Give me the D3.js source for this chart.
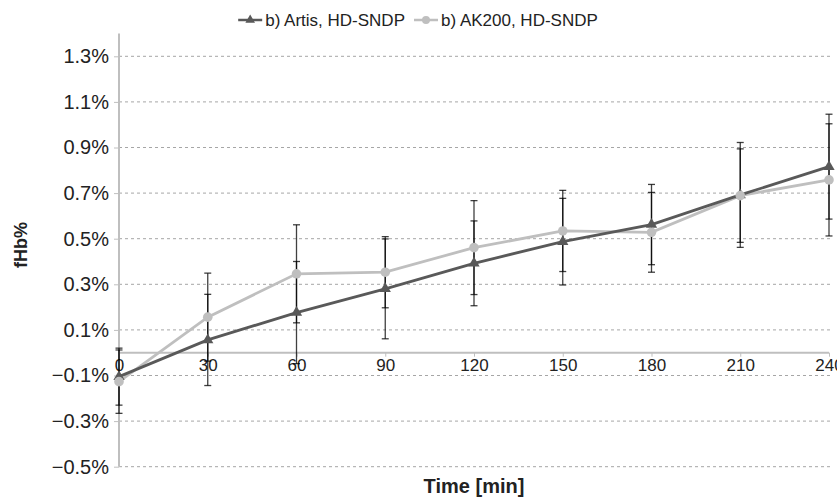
<!DOCTYPE html>
<html><head><meta charset="utf-8">
<script src="https://cdn.jsdelivr.net/npm/d3@7"></script>
<style>body{margin:0;background:#fff}svg{display:block;font-family:"Liberation Sans",Arial,sans-serif}</style>
</head><body><svg id="c" width="837" height="499"></svg>
<script>
const times = [0, 30, 60, 90, 120, 150, 180, 210, 240];
const seriesNames = ["b) Artis, HD-SNDP", "b) AK200, HD-SNDP"];
const artis = [-0.105, 0.056, 0.176, 0.28, 0.392, 0.487, 0.562, 0.692, 0.816];
const artisErr = [0.125, 0.2, 0.224, 0.219, 0.186, 0.19, 0.176, 0.23, 0.23];
const ak200 = [-0.127, 0.156, 0.346, 0.353, 0.461, 0.534, 0.528, 0.689, 0.758];
const ak200Err = [0.139, 0.193, 0.215, 0.156, 0.206, 0.178, 0.175, 0.205, 0.246];
const yTicks = [-0.5, -0.3, -0.1, 0.1, 0.3, 0.5, 0.7, 0.9, 1.1, 1.3];
const yTickLabels = ["\u22120.5%", "\u22120.3%", "\u22120.1%", "0.1%", "0.3%", "0.5%", "0.7%", "0.9%", "1.1%", "1.3%"];
const xLabel = "Time [min]";
const yLabel = "fHb%";

const svg = d3.select("#c");
const x = d3.scaleLinear().domain([0, 240]).range([119, 829]);
const y = d3.scaleLinear().domain([-0.5, 1.3]).range([466.7, 56.3]);
const yTop = y(1.4);
const txt = "#222";

// gridlines
svg.append("g").selectAll("line").data(yTicks).join("line")
  .attr("x1", 119).attr("x2", 832)
  .attr("y1", d => y(d)).attr("y2", d => y(d))
  .attr("stroke", "#a6a6a6").attr("stroke-width", 1).attr("stroke-dasharray", "3,3");

// y axis
const yAxis = d3.axisLeft(y).tickValues(yTicks).tickSize(5).tickPadding(5)
  .tickFormat((d, i) => yTickLabels[i]);
const gy = svg.append("g").attr("transform", "translate(119,0)").call(yAxis);
gy.select(".domain").remove();
gy.selectAll(".tick line").attr("stroke", "#bfbfbf");
gy.selectAll(".tick text").attr("font-size", 20).attr("fill", txt)
  .attr("font-family", "Liberation Sans, Arial, sans-serif");
svg.append("line").attr("x1", 119).attr("x2", 119).attr("y1", yTop).attr("y2", y(-0.5))
  .attr("stroke", "#bfbfbf").attr("stroke-width", 2);

// x axis at zero
const xAxis = d3.axisBottom(x).tickValues(times).tickSize(4).tickPadding(2).tickFormat(d3.format("d"));
const gx = svg.append("g").attr("transform", `translate(0,${y(0)})`).call(xAxis);
gx.select(".domain").attr("stroke", "#bfbfbf").attr("stroke-width", 2).attr("d", `M119,0H829`);
gx.selectAll(".tick line").attr("stroke", "#bfbfbf");
gx.selectAll(".tick text").attr("font-size", 17).attr("fill", txt)
  .attr("font-family", "Liberation Sans, Arial, sans-serif");

// error bars
function errBars(vals, errs) {
  const g = svg.append("g").attr("stroke", "#000").attr("stroke-opacity", 0.75).attr("stroke-width", 1.3);
  times.forEach((t, i) => {
    const cx = x(t), y1 = y(vals[i] + errs[i]), y2 = y(vals[i] - errs[i]);
    g.append("line").attr("x1", cx).attr("x2", cx).attr("y1", y1).attr("y2", y2);
    g.append("line").attr("x1", cx - 3.5).attr("x2", cx + 3.5).attr("y1", y1).attr("y2", y1);
    g.append("line").attr("x1", cx - 3.5).attr("x2", cx + 3.5).attr("y1", y2).attr("y2", y2);
  });
}
errBars(artis, artisErr);
errBars(ak200, ak200Err);

const line = d3.line().x((d, i) => x(times[i])).y(d => y(d));
const cArtis = "#595959", cAk = "#bfbfbf";
svg.append("path").datum(ak200).attr("d", line).attr("fill", "none").attr("stroke", cAk).attr("stroke-width", 2.8);
svg.append("path").datum(artis).attr("d", line).attr("fill", "none").attr("stroke", cArtis).attr("stroke-width", 2.8);

const tri = d3.symbol().type(d3.symbolTriangle).size(55);
svg.append("g").selectAll("path").data(artis).join("path")
  .attr("d", tri).attr("fill", cArtis)
  .attr("transform", (d, i) => `translate(${x(times[i])},${y(d)})`);
svg.append("g").selectAll("circle").data(ak200).join("circle")
  .attr("cx", (d, i) => x(times[i])).attr("cy", d => y(d)).attr("r", 4.8).attr("fill", cAk);

// legend (centered on the full chart width)
const legFont = 17, legY = 20, mW = 24;
const leg = svg.append("g");
const colors = [cArtis, cAk];
let cur = 0;
const items = seriesNames.map((name, i) => {
  const g = leg.append("g").attr("transform", `translate(${cur},0)`);
  g.append("line").attr("x1", 0).attr("x2", mW).attr("y1", legY).attr("y2", legY)
    .attr("stroke", colors[i]).attr("stroke-width", 2.5);
  if (i === 0) g.append("path").attr("d", d3.symbol().type(d3.symbolTriangle).size(40))
    .attr("transform", `translate(${mW / 2},${legY})`).attr("fill", colors[i]);
  else g.append("circle").attr("cx", mW / 2).attr("cy", legY).attr("r", 4).attr("fill", colors[i]);
  const t = g.append("text").attr("x", mW + 3).attr("y", legY).attr("dy", "0.35em")
    .attr("font-size", legFont).attr("fill", txt).text(name);
  cur += mW + 3 + t.node().getComputedTextLength() + 9;
  return g;
});
const legW = cur - 9;
leg.attr("transform", `translate(${418 - legW / 2},0)`);

// axis titles
svg.append("text").attr("x", 474).attr("y", 493).attr("text-anchor", "middle")
  .attr("font-size", 20).attr("font-weight", "bold").attr("fill", txt).text(xLabel);
svg.append("text").attr("transform", "translate(27,245) rotate(-90)").attr("text-anchor", "middle")
  .attr("font-size", 18).attr("font-weight", "bold").attr("fill", txt).text(yLabel);
</script></body></html>
